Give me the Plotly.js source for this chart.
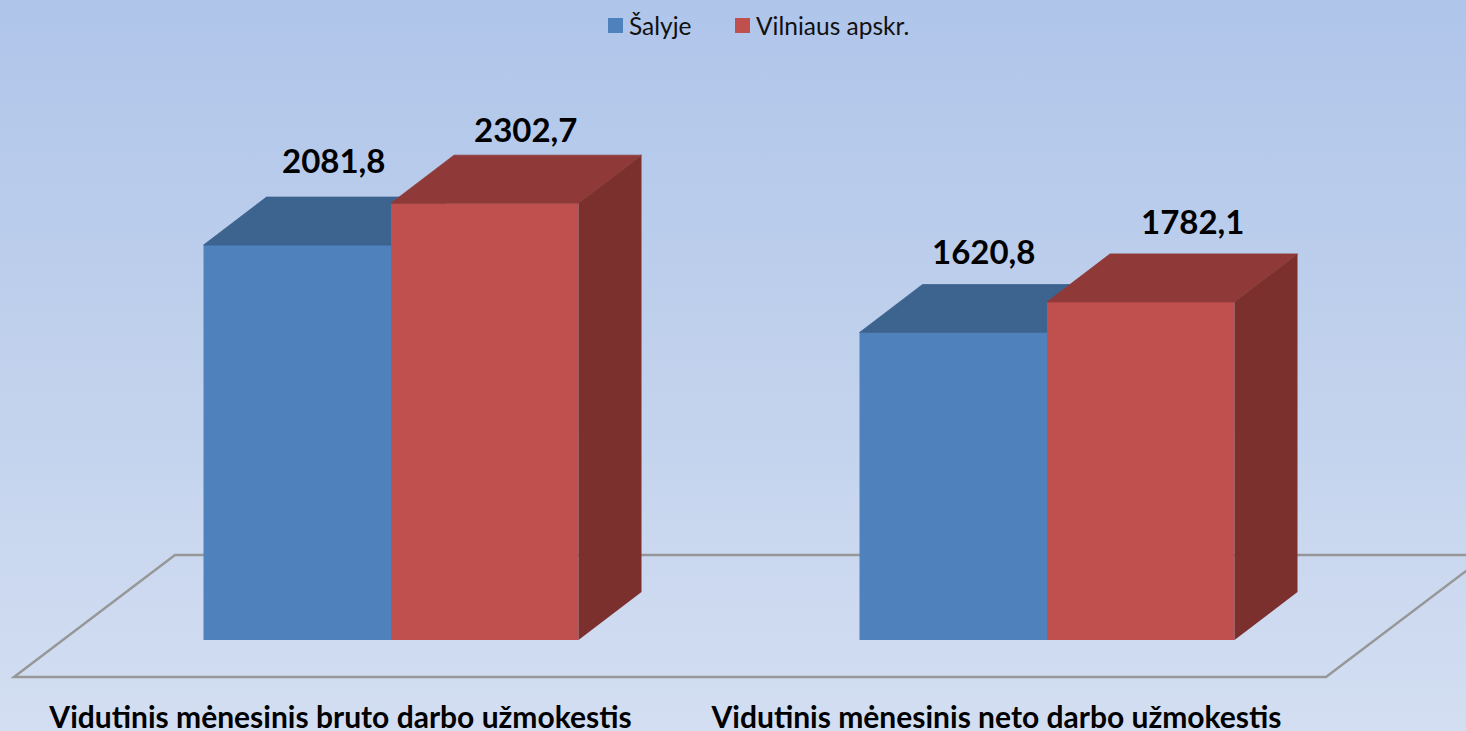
<!DOCTYPE html>
<html><head><meta charset="utf-8">
<script src="https://cdn.plot.ly/plotly-3.0.1.min.js"></script>
<style>
html,body{margin:0;padding:0;width:1466px;height:731px;overflow:hidden;background:linear-gradient(180deg,#AFC5EA 0%,#BFD0EC 45%,#D3DEF2 100%);}
#chart{width:1466px;height:731px;}
</style></head><body><div id="chart"></div>
<script>
var categories = ["Vidutinis mėnesinis bruto darbo užmokestis", "Vidutinis mėnesinis neto darbo užmokestis"];
var seriesNames = ["Šalyje", "Vilniaus apskr."];
var salyje = [2081.8, 1620.8];
var vilnius = [2302.7, 1782.1];

// styling and geometry of the pseudo-3D look
var W = 1466, H = 731, BOTTOM = 34;
var X0 = 391, XUNIT = 656;            // px of category 0, px per category
var YBASE = 640, YUNIT = 0.1897;      // px of zero, px per value
var plotH = H - BOTTOM;
var xRange = [-X0 / XUNIT, (W - X0) / XUNIT];
var yRange = [(YBASE - plotH) / YUNIT, YBASE / YUNIT];
var barW = 187.5 / XUNIT, dx = 63 / XUNIT, dy = 48 / YUNIT;
var xs = categories.map(function (_, i) { return i; });
var tickOffset = -0.077;
var colors = {front: ["#4F81BD", "#C0504D"], top: ["#3D638F", "#8F3A38"], side: ["#3A5E87", "#7B302E"]};

function fmt(v) { return v.toFixed(1).replace(".", ","); }

function face(vals, off, kind, ax) {
  var px = [], py = [];
  vals.forEach(function (v, i) {
    var l = i + off, r = l + barW;
    if (kind === "top") {
      px.push(l, r, r + dx, l + dx, l, null);
      py.push(v, v, v + dy, v + dy, v, null);
    } else {
      px.push(r, r + dx, r + dx, r, r, null);
      py.push(0, dy, v + dy, v, 0, null);
    }
  });
  var col = colors[kind][ax === "x2" ? 1 : 0];
  return {type: "scatter", mode: "lines", x: px, y: py, fill: "toself", showlegend: false, hoverinfo: "skip",
    fillcolor: col, line: {width: kind === "top" ? 0.8 : 0, color: col},
    xaxis: ax, yaxis: ax === "x2" ? "y2" : "y"};
}

var traces = [
  {type: "bar", name: seriesNames[0], x: xs, y: salyje, width: barW, offset: -barW, marker: {color: colors.front[0]}, hoverinfo: "skip"},
  face(salyje, -barW, "top", "x"),
  {type: "bar", name: seriesNames[1], x: xs, y: vilnius, width: barW, offset: 0, marker: {color: colors.front[1]}, xaxis: "x2", yaxis: "y2", hoverinfo: "skip"},
  face(vilnius, 0, "top", "x2"),
  face(vilnius, 0, "side", "x2")
];

var floorFrontY = -37 / YUNIT, floorBackY = 85 / YUNIT;
var floorPath = "M" + (-377 / XUNIT) + "," + floorFrontY + " L" + (-216 / XUNIT) + "," + floorBackY +
  " L" + (1096 / XUNIT) + "," + floorBackY + " L" + (935 / XUNIT) + "," + floorFrontY + " Z";

var shapes = [{type: "path", xref: "x", yref: "y", layer: "below", path: floorPath, line: {color: "#979797", width: 2.4}, fillcolor: "rgba(0,0,0,0)"}];

var shifts = [[[36, 85], [41, 74]], [[30, 82], [52, 81]]];
var annotations = [];
[salyje, vilnius].forEach(function (vals, s) {
  vals.forEach(function (v, i) {
    annotations.push({x: i + (s === 0 ? -barW / 2 : barW / 2), y: v, xref: "x", yref: "y",
      text: "<b>" + fmt(v) + "</b>", showarrow: false, xanchor: "center", yanchor: "middle",
      xshift: shifts[i][s][0], yshift: shifts[i][s][1],
      font: {family: "Lato, sans-serif", size: 33, color: "#000"}});
  });
});

// legend: square swatch plus label, placed in paper coordinates
var legendSwatchX = [608, 735], legendTextX = [627, 754], swatchSize = 15, legendY = 25.5;
seriesNames.forEach(function (name, s) {
  shapes.push({type: "rect", xref: "paper", yref: "paper", layer: "above",
    x0: legendSwatchX[s] / W, x1: (legendSwatchX[s] + swatchSize) / W,
    y0: 1 - (legendY + swatchSize / 2) / plotH, y1: 1 - (legendY - swatchSize / 2) / plotH,
    line: {width: 0}, fillcolor: colors.front[s]});
  annotations.push({x: legendTextX[s] / W, y: 1 - (legendY - 0.5) / plotH, xref: "paper", yref: "paper",
    text: name, showarrow: false, xanchor: "left", yanchor: "middle",
    font: {family: "Lato, sans-serif", size: 24.5, color: "#111"}});
});

var layout = {
  width: W, height: H,
  margin: {l: 0, r: 0, t: 0, b: BOTTOM},
  paper_bgcolor: "rgba(0,0,0,0)", plot_bgcolor: "rgba(0,0,0,0)",
  barmode: "overlay", showlegend: false,
  xaxis: {range: xRange, tickmode: "array", tickvals: xs.map(function (i) { return i + tickOffset; }),
    ticktext: categories.map(function (c) { return "<b>" + c + "</b>"; }), ticks: "", showgrid: false, zeroline: false, showline: false,
    tickangle: 0, tickfont: {family: "Lato, sans-serif", size: 30, color: "#000"}},
  yaxis: {range: yRange, visible: false, showgrid: false, zeroline: false},
  xaxis2: {range: xRange, overlaying: "x", visible: false},
  yaxis2: {range: yRange, overlaying: "y", visible: false},
  shapes: shapes,
  annotations: annotations
};

Plotly.newPlot("chart", traces, layout, {displayModeBar: false, staticPlot: true});
</script></body></html>
